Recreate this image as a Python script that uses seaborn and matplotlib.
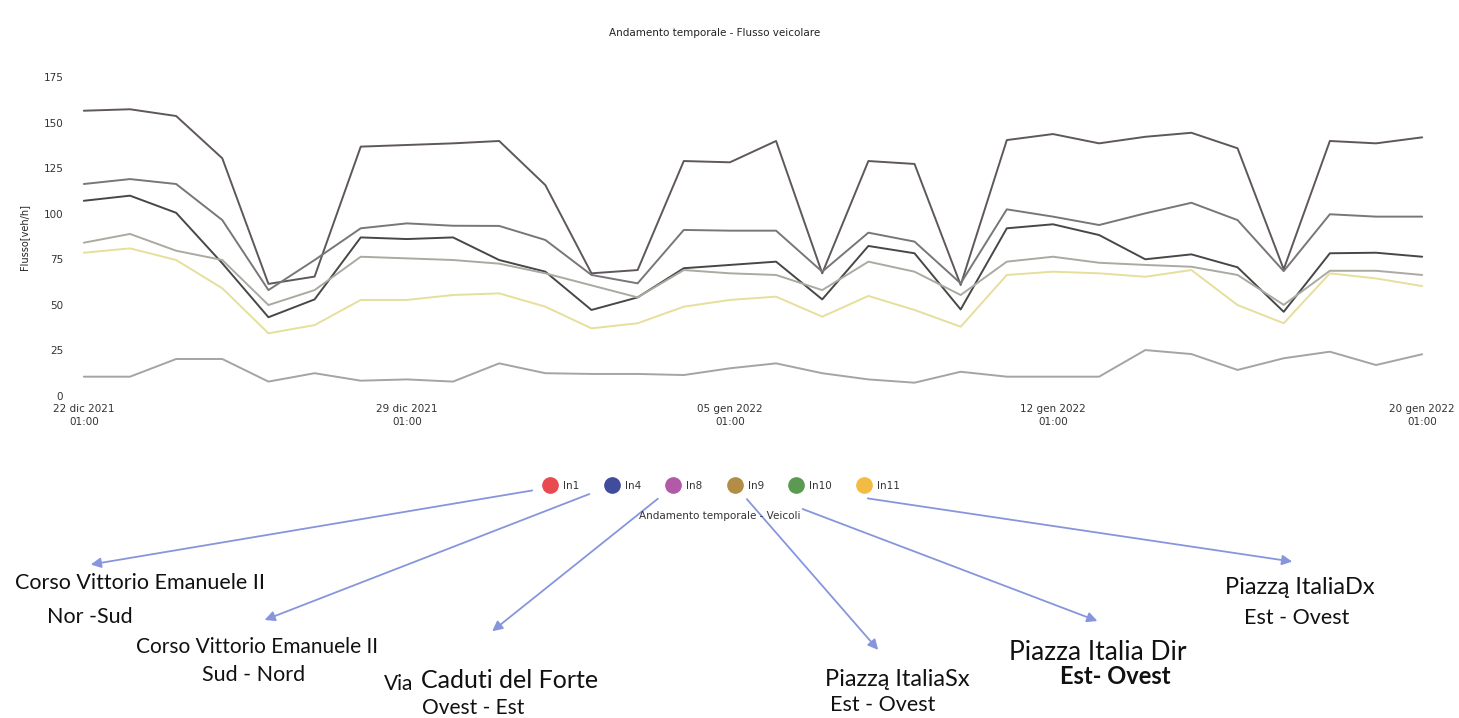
import numpy as np
import matplotlib
matplotlib.use("Agg")
import matplotlib.pyplot as plt
from matplotlib.lines import Line2D
import pandas as pd
import seaborn as sns

# daily values, 22 dic 2021 01:00 -> 20 gen 2022 01:00
days = pd.date_range("2021-12-22 01:00", periods=30, freq="D")

in1 = [156.5, 157.3, 153.6, 130.4, 61.5, 65.5, 136.8, 137.7, 138.6, 139.9,
       115.7, 67.3, 69.1, 128.9, 128.2, 139.9, 67.3, 128.9, 127.3, 60.9,
       140.4, 143.7, 138.6, 142.2, 144.4, 135.9, 69.5, 139.9, 138.6, 141.9]
in8 = [116.3, 119.0, 116.3, 96.5, 58.1, 74.6, 92.0, 94.7, 93.4, 93.3,
       85.6, 66.4, 61.8, 91.1, 90.7, 90.7, 68.2, 89.6, 84.7, 61.8,
       102.4, 98.4, 93.8, 100.2, 106.0, 96.5, 68.5, 99.7, 98.4, 98.4]
in4 = [107.1, 109.9, 100.5, 72.8, 43.2, 53.0, 87.0, 86.1, 87.0, 74.6,
       68.2, 47.2, 54.1, 70.1, 71.9, 73.7, 53.0, 82.3, 78.3, 47.5,
       92.0, 94.2, 88.3, 75.0, 77.7, 70.6, 46.2, 78.3, 78.6, 76.4]
in9 = [84.1, 88.9, 79.7, 74.6, 49.9, 58.1, 76.4, 75.5, 74.6, 72.6,
       67.3, 60.7, 54.1, 69.1, 67.3, 66.4, 58.1, 73.7, 68.2, 55.4,
       73.7, 76.4, 73.1, 71.9, 70.9, 66.4, 50.0, 68.7, 68.7, 66.4]
in11 = [78.6, 81.0, 74.6, 59.1, 34.4, 38.9, 52.7, 52.7, 55.4, 56.3,
        49.0, 37.1, 39.9, 49.0, 52.7, 54.5, 43.5, 54.9, 47.2, 38.0,
        66.4, 68.2, 67.3, 65.4, 69.1, 49.9, 39.9, 67.3, 64.5, 60.3]
in10 = [10.6, 10.6, 20.3, 20.3, 7.9, 12.5, 8.4, 9.1, 7.9, 17.9,
        12.5, 12.1, 12.1, 11.5, 15.2, 17.9, 12.5, 9.1, 7.3, 13.3,
        10.6, 10.6, 10.6, 25.2, 23.0, 14.3, 20.7, 24.3, 17.0, 22.9]

series_names = ["In1", "In4", "In8", "In9", "In10", "In11"]
legend_colors = ["#e84a50", "#424c9c", "#b25aa8", "#b48c46", "#5c9a54", "#f2bc44"]
# scanned (faded) colours of the drawn lines
line_colors = {"In1": "#5e575b", "In8": "#777777", "In4": "#474747",
               "In9": "#aaaaa2", "In11": "#e6df9c", "In10": "#a4a4a4"}

tick_dates = ["2021-12-22 01:00", "2021-12-29 01:00", "2022-01-05 01:00",
              "2022-01-12 01:00", "2022-01-20 01:00"]
tick_labels = ["22 dic 2021\n01:00", "29 dic 2021\n01:00", "05 gen 2022\n01:00",
               "12 gen 2022\n01:00", "20 gen 2022\n01:00"]

df = pd.concat([
    pd.DataFrame({"data": days, "flusso": vals, "linea": name})
    for name, vals in [("In1", in1), ("In4", in4), ("In8", in8),
                       ("In9", in9), ("In10", in10), ("In11", in11)]
])

sns.set_style("white")
plt.rcParams["font.family"] = ["DejaVu Sans"]

fig = plt.figure(figsize=(14.59, 7.18), dpi=100)
W, H = 1459, 718
ax = fig.add_axes([80 / W, 1 - 396 / H, (1426 - 80) / W, (396 - 77) / H])

sns.lineplot(data=df, x="data", y="flusso", hue="linea", palette=line_colors,
             linewidth=1.4, legend=False, ax=ax)

ax.set_xlim(days[0] - pd.Timedelta(hours=2), days[-1] + pd.Timedelta(hours=2))
ax.set_ylim(0, 175)
ax.set_yticks([0, 25, 50, 75, 100, 125, 150, 175])
ax.set_xticks(pd.to_datetime(tick_dates))
ax.set_xticklabels(tick_labels, fontsize=7.5, color="#333333", linespacing=1.3)
ax.tick_params(axis="y", labelsize=7.5, colors="#333333", length=0, pad=12)
ax.tick_params(axis="x", length=0, pad=6)
ax.set_xlabel("")
ax.set_ylabel("Flusso[veh/h]", fontsize=7, color="#222222", labelpad=10)
for s in ax.spines.values():
    s.set_visible(False)

fig.text(715 / W, 1 - 33 / H, "Andamento temporale - Flusso veicolare",
         ha="center", va="center", fontsize=7.5, color="#222222")

handles = [Line2D([], [], marker="o", linestyle="", markersize=11,
                  markerfacecolor=c, markeredgecolor=c) for c in legend_colors]
fig.legend(handles, series_names, loc="center", ncol=6, frameon=False,
           bbox_to_anchor=(720 / W, 1 - 486 / H), fontsize=7.5,
           handletextpad=0.25, columnspacing=2.1, labelcolor="#333333")

fig.text(720 / W, 1 - 516 / H, "Andamento temporale - Veicoli",
         ha="center", va="center", fontsize=7.5, color="#333333")

# arrows from legend entries to street names
arrows = [((535, 490), (88, 565)), ((592, 493), (262, 621)),
          ((660, 497), (490, 633)), ((745, 497), (880, 652)),
          ((800, 508), (1100, 622)), ((865, 498), (1295, 562))]
for (x0, y0), (x1, y1) in arrows:
    fig.add_artist(matplotlib.patches.FancyArrowPatch(
        (x0 / W, 1 - y0 / H), (x1 / W, 1 - y1 / H), transform=fig.transFigure,
        arrowstyle="-|>,head_length=6,head_width=3", color="#8796dc",
        linewidth=1.3))

lab = dict(ha="center", va="center", color="#111111", family="Lato")
fig.text(140 / W, 1 - 583 / H, "Corso Vittorio Emanuele II", fontsize=15.5, **lab)
fig.text(90 / W, 1 - 617 / H, "Nor -Sud", fontsize=15.5, **lab)
fig.text(257 / W, 1 - 647 / H, "Corso Vittorio Emanuele II", fontsize=15, **lab)
fig.text(254 / W, 1 - 675 / H, "Sud - Nord", fontsize=15.5, **lab)
fig.text(399 / W, 1 - 684 / H, "Via", fontsize=15, **lab)
fig.text(510 / W, 1 - 681 / H, "Caduti del Forte", fontsize=18, **lab)
fig.text(473 / W, 1 - 708 / H, "Ovest - Est", fontsize=15, **lab)
fig.text(897 / W, 1 - 680 / H, "Piazzą ItaliaSx", fontsize=17, **lab)
fig.text(883 / W, 1 - 705 / H, "Est - Ovest", fontsize=15.5, **lab)
fig.text(1098 / W, 1 - 652 / H, "Piazza Italia Dir", fontsize=19, **lab)
fig.text(1115 / W, 1 - 676 / H, "Est- Ovest", fontsize=17, fontweight="bold", **lab)
fig.text(1300 / W, 1 - 588 / H, "Piazzą ItaliaDx", fontsize=17, **lab)
fig.text(1297 / W, 1 - 618 / H, "Est - Ovest", fontsize=15.5, **lab)

fig.savefig("out.png", dpi=100)
